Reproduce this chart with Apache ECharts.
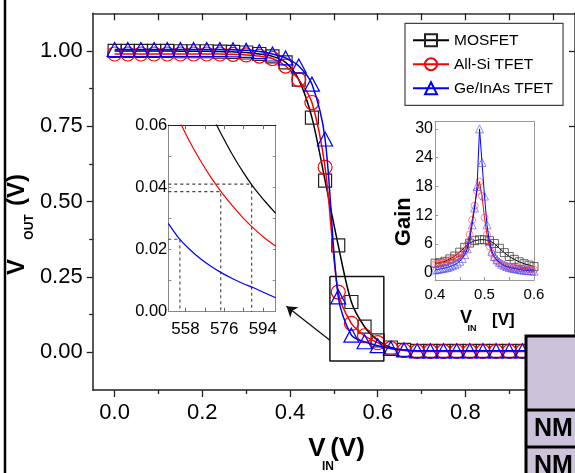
<!DOCTYPE html>
<html><head><meta charset="utf-8">
<script src="https://cdn.jsdelivr.net/npm/echarts@6/dist/echarts.min.js"></script>
<style>html,body{margin:0;padding:0;background:#fff}#c{width:575px;height:473px}</style>
</head><body><div id="c"></div>
<script>
// ---------- data ----------
const seriesNames = ['MOSFET', 'All-Si TFET', 'Ge/InAs TFET'];
const vin = [0.00,0.03,0.06,0.09,0.12,0.15,0.18,0.21,0.24,0.27,0.30,0.33,0.36,0.39,0.42,0.45,0.48,0.51,0.54,0.57,0.60,0.63,0.66,0.69,0.72,0.75,0.78,0.81,0.84,0.87,0.90,0.93,0.96,0.99,1.02,1.05];
const voutMosfet = [1.000,1.000,1.000,1.000,1.000,0.999,0.999,0.999,0.998,0.997,0.995,0.990,0.982,0.962,0.905,0.779,0.570,0.355,0.167,0.085,0.040,0.016,0.008,0.005,0.005,0.005,0.005,0.005,0.005,0.005,0.005,0.005,0.005,0.005,0.005,0.005];
const voutAllSi  = [0.990,0.990,0.990,0.990,0.990,0.990,0.990,0.990,0.990,0.989,0.987,0.983,0.975,0.950,0.905,0.829,0.614,0.200,0.096,0.055,0.032,0.013,0.006,0.003,0.003,0.003,0.003,0.003,0.003,0.003,0.003,0.003,0.003,0.003,0.003,0.003];
const voutGeInAs = [1.005,1.005,1.005,1.005,1.005,1.005,1.005,1.005,1.005,1.004,1.002,0.998,0.990,0.977,0.950,0.890,0.708,0.184,0.057,0.035,0.022,0.013,0.008,0.005,0.005,0.005,0.005,0.005,0.005,0.005,0.005,0.005,0.005,0.005,0.005,0.005];
const xTicks = [0, 0.2, 0.4, 0.6, 0.8, 1.0];
const yTicks = [0, 0.25, 0.5, 0.75, 1.0];

// zoom inset (mV, V)
const zoomX = [550,555,560,565,570,575,580,585,590,595,600];
const zoomMosfet = [null,null,null,null,0.0635,0.0566,0.0503,0.0447,0.0397,0.0355,0.0316];
const zoomAllSi  = [null,0.0616,0.0546,0.0485,0.0430,0.0382,0.0339,0.0300,0.0266,0.0236,0.0210];
const zoomGeInAs = [0.0284,0.0236,0.0200,0.0170,0.0145,0.0124,0.0106,0.0090,0.0076,0.0060,0.0045];
const zoomGuides = [[555.4,0.0233],[574.4,0.0386],[588.8,0.041]];
const zoomXTicks = [558, 576, 594];
const zoomYTicks = [0, 0.02, 0.04, 0.06];

// gain inset
const gainXMos = [0.40,0.41,0.42,0.43,0.44,0.45,0.46,0.47,0.48,0.49,0.50,0.51,0.52,0.53,0.54,0.55,0.56,0.57,0.58,0.59,0.60];
const gainMosfet = [2.0,2.1,2.4,2.9,3.5,4.3,5.3,6.2,6.7,6.9,6.9,6.7,6.1,5.1,4.2,3.4,2.8,2.3,1.9,1.6,1.3];
const gainX = [0.400,0.405,0.410,0.415,0.420,0.425,0.430,0.435,0.440,0.445,0.450,0.455,0.460,0.465,0.470,0.475,0.480,0.485,0.490,0.495,0.500,0.505,0.510,0.515,0.520,0.525,0.530,0.535,0.540,0.545,0.550,0.555,0.560,0.565,0.570,0.575,0.580,0.585,0.590,0.595,0.600];
const gainAllSi  = [1.8,1.9,2.0,2.1,2.2,2.4,2.6,2.8,3.0,3.3,3.6,4.0,4.6,5.8,8.0,11.0,14.0,17.0,19.0,16.0,11.5,8.0,5.5,4.0,3.1,2.5,2.1,1.8,1.6,1.4,1.3,1.2,1.1,1.0,0.95,0.9,0.85,0.8,0.75,0.7,0.65];
const gainGeInAs = [0.6,0.7,0.8,0.9,1.0,1.1,1.3,1.5,1.7,2.0,2.4,3.0,3.8,5.0,7.0,10.0,13.5,18.0,30.0,23.0,16.0,10.0,6.5,4.5,3.4,2.7,2.2,1.8,1.5,1.3,1.1,1.0,0.9,0.8,0.7,0.6,0.55,0.5,0.45,0.4,0.35];
const gainXTicks = [0.4, 0.5, 0.6];
const gainYTicks = [0, 6, 12, 18, 24, 30];

// zoom box and arrow in main plot coordinates
const zoomBox = [[0.491,0.252],[0.614,0.252],[0.614,-0.029],[0.491,-0.029],[0.491,0.252]];
const arrowFromTo = [[0.491,0.040],[0.392,0.153]];

const tableRows = ['NM', 'NM'];

// ---------- chart ----------
const colors = ['#000000', '#ff0000', '#0000ff'];
const symbols = ['rect', 'circle', 'triangle'];
const sizes = [13, 14, [15, 14]];
const FONT = "'Liberation Sans', Arial, sans-serif";
const zip = (xs, ys) => xs.map((x, i) => [x, ys[i]]);

function ax(o) {
  const base = {
    type: 'value', splitLine: { show: false },
    axisLabel: { show: false }, axisTick: { show: false },
    axisLine: { show: false, onZero: false }
  };
  const r = Object.assign(base, o);
  r.axisLine.onZero = false;
  return r;
}
const line = (c, w) => ({ show: true, onZero: false, lineStyle: { color: c, width: w } });
const tick = (vals, len, inside, c, w) => ({ show: true, customValues: vals, length: len, inside: inside, lineStyle: { color: c || '#222', width: w || 1.3 } });
const label = (vals, fmt, size, margin) => ({ show: true, customValues: vals, formatter: fmt, fontSize: size, fontFamily: FONT, color: '#000', margin: margin });

const mainData = [voutMosfet, voutAllSi, voutGeInAs];
const zoomData = [zoomMosfet, zoomAllSi, zoomGeInAs];

const series = [];
mainData.forEach((d, i) => {
  series.push({
    name: seriesNames[i], type: 'line', xAxisIndex: 0, yAxisIndex: 0,
    data: zip(vin, d), smooth: 0.3, showAllSymbol: true,
    symbol: symbols[i], symbolSize: sizes[i],
    lineStyle: { color: colors[i], width: 1.5 },
    itemStyle: { color: 'rgba(255,255,255,0)', borderColor: i === 0 ? '#222' : colors[i], borderWidth: 1.2 },
    z: 2 + i
  });
});
series.push({
  type: 'line', xAxisIndex: 0, yAxisIndex: 0, data: zoomBox, symbol: 'none', silent: true,
  lineStyle: { color: '#111', width: 1.5 }, z: 6,
  markLine: {
    silent: true, symbol: ['none', 'arrow'], symbolSize: 10, label: { show: false },
    lineStyle: { color: '#111', width: 1.3, type: 'solid' },
    data: [[{ coord: arrowFromTo[0] }, { coord: arrowFromTo[1] }]]
  }
});
// zoom inset
zoomGuides.forEach(p => {
  series.push({
    type: 'line', xAxisIndex: 3, yAxisIndex: 3, symbol: 'none', silent: true,
    data: [[550, p[1]], [p[0], p[1]], [p[0], 0]],
    lineStyle: { color: '#444', width: 1.1, type: [3, 3] }, z: 12
  });
});
zoomData.forEach((d, i) => {
  series.push({
    type: 'line', xAxisIndex: 3, yAxisIndex: 3, data: zip(zoomX, d), smooth: 0.4,
    symbol: 'none', lineStyle: { color: colors[i], width: 1.2 }, z: 13, silent: true
  });
});
// gain inset
const gainSets = [[gainXMos, gainMosfet, 8], [gainX, gainAllSi, 7], [gainX, gainGeInAs, 8]];
const lightBorder = ['rgba(40,40,40,0.7)', 'rgba(255,70,70,0.6)', 'rgba(70,70,255,0.6)'];
gainSets.forEach((g, i) => {
  series.push({
    type: 'line', xAxisIndex: 5, yAxisIndex: 5, data: zip(g[0], g[1]), showAllSymbol: true,
    symbol: symbols[i], symbolSize: g[2], silent: true,
    lineStyle: { color: colors[i], width: 1 },
    itemStyle: { color: 'rgba(255,255,255,0)', borderColor: lightBorder[i], borderWidth: 1 },
    z: 12 + i
  });
});

const option = {
  animation: false,
  backgroundColor: '#fff',
  grid: [
    { left: 92.7, top: 13.3, width: 484, height: 376.7 },
    { left: 168.3, top: 125, width: 107.4, height: 186.7, show: true, backgroundColor: '#fff', borderWidth: 0, z: 10 },
    { left: 435, top: 121.7, width: 99, height: 158.3, show: true, backgroundColor: '#fff', borderWidth: 0, z: 10 }
  ],
  xAxis: [
    ax({ gridIndex: 0, position: 'bottom', min: -0.05, max: 1.05, axisLine: line('#222', 1.5),
         axisTick: tick(xTicks, 7, false), axisLabel: label(xTicks, v => v.toFixed(1), 22, 12) }),
    ax({ gridIndex: 0, position: 'bottom', min: -0.05, max: 1.05, axisTick: tick([0.1,0.3,0.5,0.7,0.9], 4, false) }),
    ax({ gridIndex: 0, position: 'top', min: -0.05, max: 1.05, axisLine: line('#333', 1.5),
         axisTick: tick([0,0.1,0.2,0.3,0.4,0.5,0.6,0.7,0.8,0.9,1.0], 7, true) }),
    ax({ gridIndex: 1, position: 'bottom', min: 550, max: 600, axisLine: line('#888', 1), z: 11,
         axisTick: tick([558,567,576,585,594], 4, true, '#666', 1), axisLabel: label(zoomXTicks, v => String(v), 17, 9) }),
    ax({ gridIndex: 1, position: 'top', min: 550, max: 600, axisLine: line('#222', 1.2), z: 11,
         axisTick: tick([558,567,576,585,594], 4, true, '#666', 1) }),
    ax({ gridIndex: 2, position: 'bottom', min: 0.4, max: 0.6, axisLine: line('#999', 1), z: 11,
         axisTick: tick([0.45,0.5,0.55], 3, true, '#999', 1), axisLabel: label(gainXTicks, v => v.toFixed(1), 15, 7) }),
    ax({ gridIndex: 2, position: 'top', min: 0.4, max: 0.6, axisLine: line('#999', 1), z: 11 })
  ],
  yAxis: [
    ax({ gridIndex: 0, position: 'left', min: -0.125, max: 1.125, axisLine: line('#222', 1.5),
         axisTick: tick(yTicks, 6, false), axisLabel: label(yTicks, v => v.toFixed(2), 22, 10) }),
    ax({ gridIndex: 0, position: 'left', min: -0.125, max: 1.125, axisTick: tick([0.125,0.375,0.625,0.875], 3.5, false) }),
    ax({ gridIndex: 0, position: 'right', min: -0.125, max: 1.125, axisLine: line('#333', 1.5),
         axisTick: tick(yTicks, 6, true) }),
    ax({ gridIndex: 1, position: 'left', min: 0, max: 0.06, axisLine: line('#888', 1), z: 11,
         axisTick: tick([0.01,0.02,0.03,0.04,0.05], 3, true, '#888', 1), axisLabel: label(zoomYTicks, v => v.toFixed(2), 16.5, 1) }),
    ax({ gridIndex: 1, position: 'right', min: 0, max: 0.06, axisLine: line('#888', 1), z: 11,
         axisTick: tick([0.01,0.02,0.03,0.04,0.05], 3, true, '#888', 1) }),
    ax({ gridIndex: 2, position: 'left', min: -1.5, max: 31.5, axisLine: line('#999', 1), z: 11,
         axisTick: tick(gainYTicks, 3, true, '#999', 1), axisLabel: label(gainYTicks, v => String(v), 16, 2) }),
    ax({ gridIndex: 2, position: 'right', min: -1.5, max: 31.5, axisLine: line('#999', 1), z: 11 })
  ],
  legend: {
    data: seriesNames, orient: 'vertical', left: 405, top: 23.3,
    padding: [8, 10, 8, 7], itemWidth: 36, itemHeight: 15, itemGap: 6,
    backgroundColor: '#fff', borderColor: '#444', borderWidth: 1.2,
    textStyle: { fontFamily: FONT, fontSize: 15.5, color: '#000', lineHeight: 18 },
    selectedMode: false, z: 20
  },
  series: series,
  graphic: [
    { type: 'line', shape: { x1: 5, y1: 0, x2: 5, y2: 473 }, style: { stroke: '#000', lineWidth: 2.5 }, z: 100 },
    // main y title
    { type: 'text', x: 17.5, y: 267, rotation: Math.PI / 2, z: 100, style: { text: 'V', font: 'bold 24px ' + FONT, fill: '#000', align: 'center', verticalAlign: 'middle' } },
    { type: 'text', x: 29.5, y: 227, rotation: Math.PI / 2, z: 100, style: { text: 'OUT', font: 'bold 12px ' + FONT, fill: '#000', align: 'center', verticalAlign: 'middle' } },
    { type: 'text', x: 17.5, y: 190, rotation: Math.PI / 2, z: 100, style: { text: '(V)', font: 'bold 24px ' + FONT, fill: '#000', align: 'center', verticalAlign: 'middle' } },
    // main x title
    { type: 'text', x: 317, y: 449, z: 100, style: { text: 'V', font: 'bold 26px ' + FONT, fill: '#000', align: 'center', verticalAlign: 'middle' } },
    { type: 'text', x: 328, y: 467, z: 100, style: { text: 'IN', font: 'bold 12px ' + FONT, fill: '#000', align: 'center', verticalAlign: 'middle' } },
    { type: 'text', x: 347.5, y: 449, z: 100, style: { text: '(V)', font: 'bold 26px ' + FONT, fill: '#000', align: 'center', verticalAlign: 'middle' } },
    // gain inset titles
    { type: 'text', x: 404, y: 221.7, rotation: Math.PI / 2, z: 100, style: { text: 'Gain', font: 'bold 22px ' + FONT, fill: '#000', align: 'center', verticalAlign: 'middle' } },
    { type: 'text', x: 466, y: 318, z: 100, style: { text: 'V', font: 'bold 18px ' + FONT, fill: '#000', align: 'center', verticalAlign: 'middle' } },
    { type: 'text', x: 472, y: 329, z: 100, style: { text: 'IN', font: 'bold 9px ' + FONT, fill: '#000', align: 'center', verticalAlign: 'middle' } },
    { type: 'text', x: 492, y: 320, z: 100, style: { text: '[V]', font: 'bold 17px ' + FONT, fill: '#000', align: 'left', verticalAlign: 'middle' } },
    // table
    { type: 'rect', shape: { x: 526, y: 336, width: 60, height: 150 }, style: { fill: '#ccc3db', stroke: '#000', lineWidth: 3 }, z: 100 },
    { type: 'line', shape: { x1: 526, y1: 410, x2: 580, y2: 410 }, style: { stroke: '#000', lineWidth: 3 }, z: 101 },
    { type: 'line', shape: { x1: 526, y1: 447, x2: 580, y2: 447 }, style: { stroke: '#000', lineWidth: 3 }, z: 101 },
    { type: 'text', x: 534, y: 429, z: 102, style: { text: tableRows[0], font: 'bold 25px ' + FONT, fill: '#000', align: 'left', verticalAlign: 'middle' } },
    { type: 'text', x: 534, y: 466, z: 102, style: { text: tableRows[1], font: 'bold 25px ' + FONT, fill: '#000', align: 'left', verticalAlign: 'middle' } }
  ]
};
const chart = echarts.init(document.getElementById('c'), null, { renderer: 'canvas' });
chart.setOption(option);
</script>
</body></html>
